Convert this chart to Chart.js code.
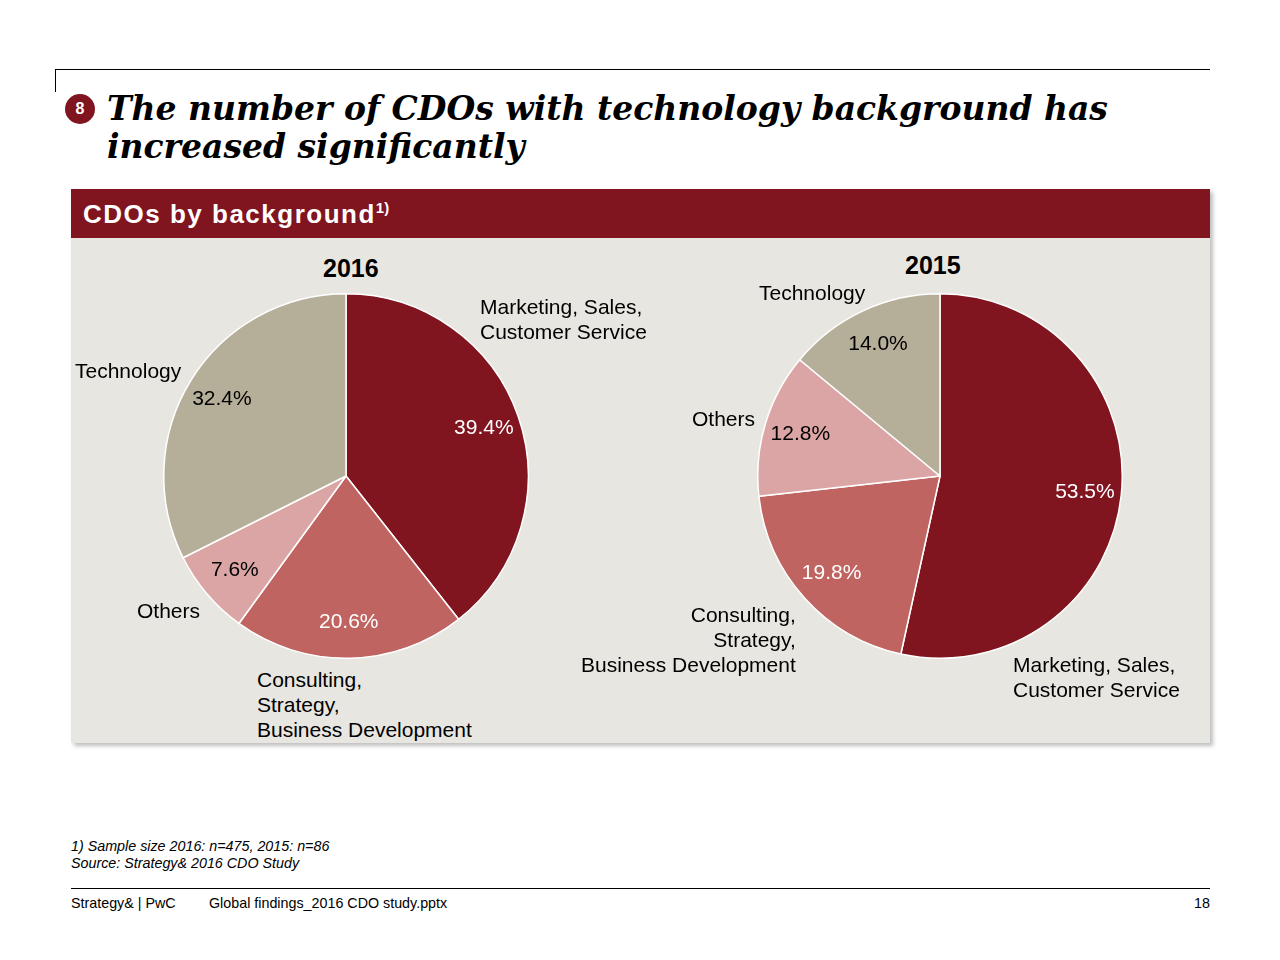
<!DOCTYPE html>
<html><head><meta charset="utf-8">
<script src="https://cdn.jsdelivr.net/npm/chart.js@4/dist/chart.umd.min.js"></script>
<style>
body{margin:0;width:1280px;height:960px;background:#fff;font-family:"Liberation Sans",Arial,sans-serif;position:relative;overflow:hidden}
.a{position:absolute;white-space:nowrap}
.lbl{position:absolute;font-size:21px;line-height:25px;color:#000;white-space:nowrap}
canvas{position:absolute}
</style></head><body>
<div class="a" style="left:55px;top:69px;width:1155px;height:1px;background:#000"></div>
<div class="a" style="left:55px;top:69px;width:1px;height:23px;background:#000"></div>
<div class="a" style="left:65px;top:94px;width:30px;height:30px;border-radius:50%;background:#80141F;color:#fff;font-size:16px;font-weight:bold;text-align:center;line-height:30px">8</div>
<div class="a" style="left:107px;top:90px;font-family:'DejaVu Serif',serif;font-weight:bold;font-style:italic;font-size:33px;line-height:38px;letter-spacing:0px">The number of CDOs with technology background has<br>increased significantly</div>
<div class="a" style="left:71px;top:189px;width:1139px;height:554px;background:#E8E6E1;box-shadow:3px 3px 4px rgba(0,0,0,0.25)"></div>
<div class="a" style="left:71px;top:189px;width:1139px;height:49px;background:#80141F"></div>
<div class="a" style="left:83px;top:199px;color:#fff;font-weight:bold;font-size:26px;letter-spacing:1.5px">CDOs by background<sup style="font-size:15px;letter-spacing:0">1)</sup></div>
<div class="a" style="left:323px;top:254px;font-weight:bold;font-size:25px">2016</div>
<div class="a" style="left:905px;top:251px;font-weight:bold;font-size:25px">2015</div>
<canvas id="c1" width="370" height="370" style="left:161px;top:291px"></canvas>
<canvas id="c2" width="370" height="370" style="left:755px;top:291px"></canvas>
<div class="lbl" style="left:480px;top:294px">Marketing, Sales,<br>Customer Service</div>
<div class="lbl" style="left:75px;top:358px">Technology</div>
<div class="lbl" style="left:137px;top:598px">Others</div>
<div class="lbl" style="left:257px;top:667px">Consulting,<br>Strategy,<br>Business Development</div>
<div class="lbl" style="left:759px;top:280px">Technology</div>
<div class="lbl" style="left:692px;top:406px">Others</div>
<div class="lbl" style="left:581px;top:602px;text-align:right">Consulting,<br>Strategy,<br>Business Development</div>
<div class="lbl" style="left:1013px;top:652px">Marketing, Sales,<br>Customer Service</div>
<div class="a" style="left:71px;top:838px;font-size:14.3px;font-style:italic;line-height:17px">1) Sample size 2016: n=475, 2015: n=86<br>Source: Strategy&amp; 2016 CDO Study</div>
<div class="a" style="left:71px;top:888px;width:1139px;height:1px;background:#000"></div>
<div class="a" style="left:71px;top:895px;font-size:14.3px">Strategy&amp; | PwC</div>
<div class="a" style="left:209px;top:895px;font-size:14.3px">Global findings_2016 CDO study.pptx</div>
<div class="a" style="left:1194px;top:895px;font-size:14.3px">18</div>
<script>
const categories=["Marketing, Sales, Customer Service","Consulting, Strategy, Business Development","Others","Technology"];
const values2016=[39.4,20.6,7.6,32.4];
const values2015=[53.5,19.8,12.8,14.0];
const colors=["#80141F","#C06462","#DBA5A5","#B5AE99"];
const textColors=["#fff","#fff","#000","#000"];
const pctPlugin={id:"pct",afterDatasetsDraw(ch){
  const ctx=ch.ctx;const meta=ch.getDatasetMeta(0);
  ctx.save();ctx.font='21px "Liberation Sans", Arial';ctx.textAlign="center";ctx.textBaseline="middle";
  meta.data.forEach((arc,i)=>{
    const a=(arc.startAngle+arc.endAngle)/2;const r=arc.outerRadius*0.8;
    ctx.fillStyle=textColors[i];
    ctx.fillText(ch.data.datasets[0].data[i].toFixed(1)+"%",arc.x+Math.cos(a)*r,arc.y+Math.sin(a)*r);
  });ctx.restore();}};
function mk(id,vals){
  new Chart(document.getElementById(id),{type:"pie",
    data:{labels:categories,datasets:[{data:vals,backgroundColor:colors,borderColor:"#fff",borderWidth:1.5}]},
    options:{responsive:false,animation:false,layout:{padding:2},
      plugins:{legend:{display:false},tooltip:{enabled:false}}},plugins:[pctPlugin]});
}
mk("c1",values2016);mk("c2",values2015);
</script>
</body></html>
